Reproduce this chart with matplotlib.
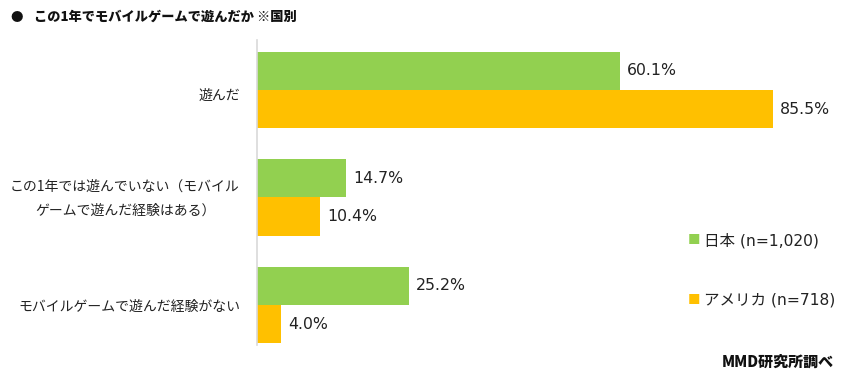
import matplotlib
matplotlib.use("Agg")
import matplotlib.pyplot as plt
import numpy as np

plt.rcParams['font.family'] = ['Noto Sans CJK JP', 'DejaVu Sans']
num_font = ['DejaVu Sans', 'Noto Sans CJK JP']   # 数字は幅広のフォントで

# データ
categories = ["遊んだ", "この1年では遊んでいない（モバイル\nゲームで遊んだ経験はある）", "モバイルゲームで遊んだ経験がない"]
japan = [60.1, 14.7, 25.2]
usa = [85.5, 10.4, 4.0]
series_names = ["日本 (n=1,020)", "アメリカ (n=718)"]
colors = ["#92D050", "#FFC000"]

W, H = 843, 380
fig = plt.figure(figsize=(W / 100, H / 100), dpi=100)
# 軸の位置 (ピクセルから)
ax = fig.add_axes([257 / W, 1 - 345 / H, (843 - 257) / W, (345 - 40) / H])

y = np.arange(len(categories))
h = 0.355
ax.barh(y - h / 2, japan, height=h, color=colors[0])
ax.barh(y + h / 2, usa, height=h, color=colors[1])

for yi, v in zip(y, japan):
    ax.text(v + 1.2, yi - h / 2, f"{v:.1f}%", va="center", ha="left", fontsize=11.3,
            family=num_font, color="#222222")
for yi, v in zip(y, usa):
    ax.text(v + 1.2, yi + h / 2, f"{v:.1f}%", va="center", ha="left", fontsize=11.3,
            family=num_font, color="#222222")

ax.set_xlim(0, (843 - 257) / 6.035)
ax.set_ylim(2.372, -0.465)
ax.set_xticks([])
ax.set_yticks([])
for s in ["top", "right", "bottom"]:
    ax.spines[s].set_visible(False)
ax.spines["left"].set_color("#d9d9d9")
ax.spines["left"].set_linewidth(1.2)

# カテゴリ名
fig.text(240 / W, 1 - 96 / H, categories[0], ha="right", va="center", fontsize=10, color="#222222")
fig.text(125 / W, 1 - 199 / H, categories[1], ha="center", va="center", fontsize=10, color="#222222", linespacing=1.9)
fig.text(240 / W, 1 - 307 / H, categories[2], ha="right", va="center", fontsize=10, color="#222222")

# 凡例
fig.text(688 / W, 1 - 241 / H, "■", ha="left", va="center", fontsize=9, color=colors[0])
fig.text(704 / W, 1 - 241 / H, series_names[0], ha="left", va="center", fontsize=11.2,
         family=num_font, color="#222222")
fig.text(688 / W, 1 - 300 / H, "■", ha="left", va="center", fontsize=9, color=colors[1])
fig.text(704 / W, 1 - 300 / H, series_names[1], ha="left", va="center", fontsize=11.2,
         family=num_font, color="#222222")

# タイトル
fig.text(10 / W, 1 - 17 / H, "●", ha="left", va="center", fontsize=9, color="#111111")
fig.text(34 / W, 1 - 17 / H, "この1年でモバイルゲームで遊んだか ※国別", ha="left", va="center",
         fontsize=9.5, fontweight="heavy", color="#111111")

# 出典
fig.text(834 / W, 1 - 362 / H, "MMD研究所調べ", ha="right", va="center", fontsize=10.8,
         fontweight="heavy", color="#111111")

fig.savefig("out.png", dpi=100)
